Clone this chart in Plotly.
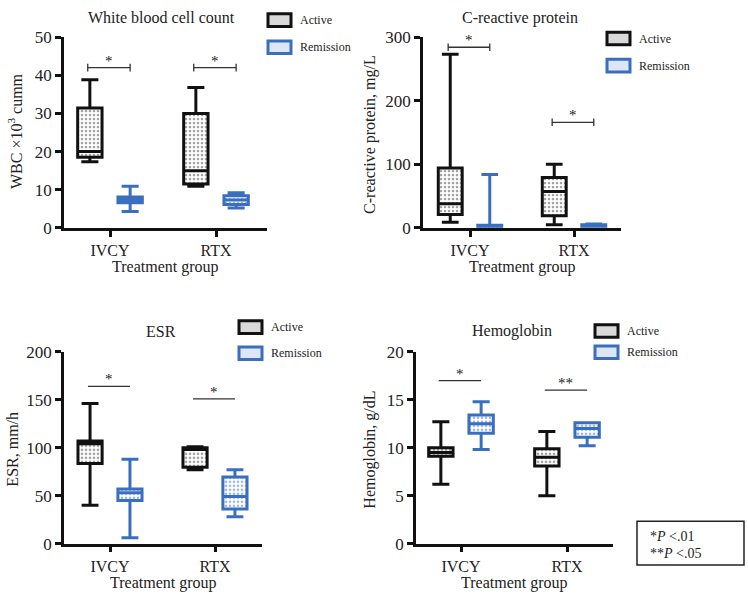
import plotly.graph_objects as go

# ─── DATOS ───
GROUPS = ["IVCY", "RTX"]

# WBC x10^3 (min, q1, mediana, q3, max) por grupo
wbc_active = dict(lo=[17.3, 10.9], q1=[18.5, 11.5], med=[20.0, 15.0], q3=[31.4, 30.0], hi=[38.8, 36.8])
wbc_remis = dict(lo=[4.3, 5.2], q1=[6.6, 6.1], med=[7.4, 7.3], q3=[8.1, 8.4], hi=[10.9, 9.2])

crp_active = dict(lo=[9, 5], q1=[21, 19], med=[38, 57], q3=[94, 79], hi=[273, 100])
crp_remis = dict(lo=[0, 0.5], q1=[1, 1.5], med=[3, 3], q3=[4, 5], hi=[84, 6])

esr_active = dict(lo=[40, 77], q1=[83.5, 79.7], med=[104, 98], q3=[107, 100], hi=[146, 101])
esr_remis = dict(lo=[6, 28], q1=[45, 36], med=[53, 49], q3=[57, 69.5], hi=[88, 77])

hb_active = dict(lo=[6.2, 5.0], q1=[9.1, 8.1], med=[9.5, 9.0], q3=[10.0, 9.9], hi=[12.7, 11.7])
hb_remis = dict(lo=[9.8, 10.2], q1=[11.5, 11.1], med=[12.5, 12.0], q3=[13.4, 12.6], hi=[14.8, 12.6])

# barras de significancia: altura y etiqueta por grupo
wbc_sig = ([42, 42], ["*", "*"])
crp_sig = ([284, 166], ["*", "*"])
esr_sig = ([164, 151], ["*", "*"])
hb_sig = ([17.0, 16.0], ["*", "**"])

TITLES = ["White blood cell count", "C-reactive protein", "ESR", "Hemoglobin"]
YTITLES = ["WBC ×10<sup>3</sup> cumm", "C-reactive protein, mg/L", "ESR, mm/h", "Hemoglobin, g/dL"]
YMAX = [50, 300, 200, 20]
YDTICK = [10, 100, 50, 5]

# ─── ESTILO ───
W, H = 748, 602
FONT = "Liberation Serif, Times New Roman, serif"
TXT = "#222222"
BLACK = "#111111"
BLUE = "#3a6fc0"
OFF = 0.19
BOXW = 0.23


def px(v):
    return v / W


def py(v):
    return 1 - v / H


# paneles: (x eje y, x fin, y eje x, y tope, x IVCY, x RTX)
PANELS = [
    (64, 267, 226, 29, 110, 216),
    (423, 621, 226, 29, 470, 574),
    (64, 262, 552, 354, 110, 215),
    (416, 613, 552, 354, 461, 567),
]
TITLE_POS = [(161, 9), (520, 9), (161, 333), (512, 333)]
YTITLE_POS = [(15, 126), (370, 130), (13, 455), (370, 455)]
XTITLE_Y = [266, 266, 593, 593]
LEG_POS = [(268, 5, 33), (607, 24, 52), (239, 322, 349), (595, 326, 348)]
SIG_STYLE = [True, True, False, False]  # con topes en los extremos

data_sets = [(wbc_active, wbc_remis, wbc_sig), (crp_active, crp_remis, crp_sig),
             (esr_active, esr_remis, esr_sig), (hb_active, hb_remis, hb_sig)]

fig = go.Figure()
shapes, annots = [], []


def note(x, y, text, size=16, **kw):
    d = dict(x=px(x), y=py(y), xref="paper", yref="paper", text=text, showarrow=False,
             xanchor="center", yanchor="middle", font=dict(size=size, color=TXT, family=FONT))
    d.update(kw)
    annots.append(d)


for i, ((x0, x1, yb, yt, xa, xb), (act, rem, sig)) in enumerate(zip(PANELS, data_sets)):
    n = "" if i == 0 else str(i + 1)
    xref, yref = "x" + n, "y" + n
    unit = xb - xa
    xr = [-(xa - x0) / unit, 1 + (x1 - xb) / unit]
    pos = list(range(len(GROUPS)))

    for d, off, col, pfg in [(act, -OFF, BLACK, "#444444"), (rem, OFF, BLUE, BLUE)]:
        xs = [p + off for p in pos]
        fig.add_trace(go.Bar(
            x=xs, base=d["q1"], y=[b - a for a, b in zip(d["q1"], d["q3"])], width=BOXW,
            marker=dict(color="white", line=dict(width=0),
                        pattern=dict(shape=".", fgcolor=pfg, bgcolor="white", size=4, solidity=0.35)),
            xaxis=xref, yaxis=yref, showlegend=False, hoverinfo="skip"))
        fig.add_trace(go.Box(
            x=xs, q1=d["q1"], median=d["med"], q3=d["q3"], lowerfence=d["lo"], upperfence=d["hi"],
            width=BOXW, whiskerwidth=0.7, fillcolor="rgba(0,0,0,0)", line=dict(color=col, width=3),
            boxpoints=False, xaxis=xref, yaxis=yref, showlegend=False))

    # barras de significancia
    for p, yv, lab in zip(pos, sig[0], sig[1]):
        xl, xr_ = p - 0.21, p + 0.19
        shapes.append(dict(type="line", xref=xref, yref=yref, x0=xl, x1=xr_, y0=yv, y1=yv,
                           line=dict(color="#333", width=1.3)))
        if SIG_STYLE[i]:
            for xe in (xl, xr_):
                shapes.append(dict(type="line", xref=xref, yref=yref, x0=xe, x1=xe,
                                   y0=yv - YMAX[i] * 0.02, y1=yv + YMAX[i] * 0.02,
                                   line=dict(color="#333", width=1.3)))
        annots.append(dict(x=(xl + xr_) / 2, y=yv, xref=xref, yref=yref, text=lab, showarrow=False,
                           yanchor="bottom", yshift=-3, font=dict(size=15, color=TXT, family=FONT)))

    axis_common = dict(showline=True, linecolor=BLACK, linewidth=2.5, ticks="outside", ticklen=6,
                       tickwidth=2.5, tickcolor=BLACK, showgrid=False, zeroline=False)
    fig.update_layout({
        "xaxis" + n: dict(domain=[px(x0), px(x1)], range=xr, tickmode="array", tickvals=pos,
                          ticktext=GROUPS, anchor=yref, tickfont=dict(family=FONT, size=16, color=TXT),
                          **axis_common),
        "yaxis" + n: dict(domain=[py(yb), py(yt)], range=[0, YMAX[i]], dtick=YDTICK[i],
                          anchor=xref, tickfont=dict(family=FONT, size=17, color=TXT), **axis_common),
    })

    tx, ty = TITLE_POS[i]
    note(tx, ty, TITLES[i])
    yx, yy = YTITLE_POS[i]
    note(yx, yy, YTITLES[i], textangle=-90)
    note((x0 + x1) / 2, XTITLE_Y[i], "Treatment group")

    # leyenda
    lx, ly1, ly2 = LEG_POS[i]
    for ly, col, fill, lab in [(ly1, BLACK, "#d9d9d9", "Active"), (ly2, BLUE, "#dce6f5", "Remission")]:
        shapes.append(dict(type="rect", xref="paper", yref="paper", x0=px(lx), x1=px(lx + 23),
                           y0=py(ly + 13), y1=py(ly), fillcolor=fill, line=dict(color=col, width=3)))
        note(lx + 30, ly + 6.5, lab, size=12, xanchor="left")

# caja de valores P
shapes.append(dict(type="rect", xref="paper", yref="paper", x0=px(637), x1=px(744), y0=py(574), y1=py(529),
                   line=dict(color="#222", width=1.5), fillcolor="white"))
note(648, 545, "*<i>P</i> <.01", size=14, xanchor="left")
note(648, 562, "**<i>P</i> <.05", size=14, xanchor="left")

fig.update_layout(width=W, height=H, margin=dict(l=0, r=0, t=0, b=0), plot_bgcolor="white",
                  paper_bgcolor="white", barmode="overlay", boxmode="overlay", showlegend=False,
                  shapes=shapes, annotations=annots, font=dict(family=FONT))
fig.write_html("out.html", config={"displayModeBar": False},
               post_script="document.body.style.margin='0px';")
